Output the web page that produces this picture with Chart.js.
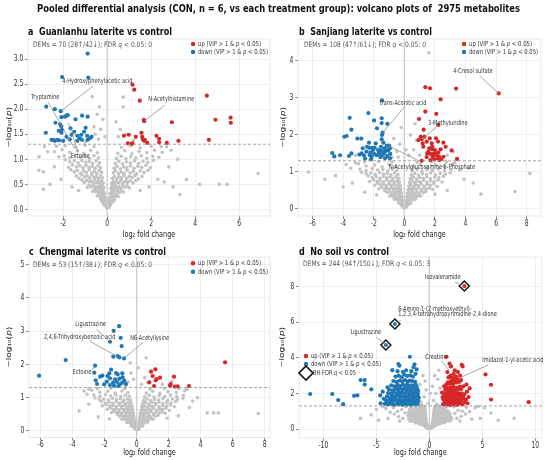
<!DOCTYPE html>
<html><head><meta charset="utf-8">
<script src="https://cdn.jsdelivr.net/npm/chart.js@4.4.1/dist/chart.umd.min.js"></script>
<style>
html,body{margin:0;padding:0;background:#fff;}
#wrap{position:relative;width:550px;height:460px;overflow:hidden;}
#wrap canvas{position:absolute;left:0;top:0;width:550px;height:460px;}
</style></head><body><div id="wrap">
<canvas id="ca" width="550" height="460"></canvas>
<canvas id="cb" width="550" height="460"></canvas>
<canvas id="cc" width="550" height="460"></canvas>
<canvas id="cd" width="550" height="460"></canvas>
<canvas id="ov" width="550" height="460"></canvas>
</div>
<script>
// ---------------- DATA ----------------
const mainTitle = 'Pooled differential analysis (CON, n = 6, vs each treatment group): volcano plots of  2975 metabolites';
const panelTitles = ['a  Guanlanhu laterite vs control','b  Sanjiang laterite vs control','c  Chengmai laterite vs control','d  No soil vs control'];
const demsText = [
  [['DEMs = 70 (28↑/42↓); FDR ',0],['q',1],[' < 0.05: 0',0]],
  [['DEMs = 108 (47↑/61↓); FDR ',0],['q',1],[' < 0.05: 0',0]],
  [['DEMs = 53 (15↑/38↓); FDR ',0],['q',1],[' < 0.05: 0',0]],
  [['DEMs = 244 (94↑/150↓); FDR ',0],['q',1],[' < 0.05: 3',0]]
];
const threshold = 1.301; // -log10(0.05)

const aXTicks = [-2,0,2,4,6];
const aYTicks = [0,0.5,1,1.5,2,2.5,3];
const aYLabels = ['0.0','0.5','1.0','1.5','2.0','2.5','3.0'];
const bXTicks = [-6,-4,-2,0,2,4,6,8];
const bYTicks = [0,1,2,3,4];
const cXTicks = [-6,-4,-2,0,2,4,6,8];
const cYTicks = [0,1,2,3,4,5];
const dXTicks = [-10,-5,0,5,10];
const dYTicks = [0,2,4,6,8];

// significant points [log2FC, -log10 p]
const aUp = [[1.15,2.49],[1.23,2.39],[1.48,2.17],[4.53,2.27],[1.67,1.79],[1.68,1.76],[2.94,1.74],[4.92,1.79],[5.61,1.83],[5.62,1.73],[1.56,1.53],[0.76,1.47],[0.98,1.49],[1.30,1.45],[1.59,1.45],[1.62,1.40],[1.68,1.37],[2.24,1.47],[2.36,1.41],[2.36,1.34],[0.94,1.32],[1.11,1.31],[1.82,1.33],[2.71,1.33],[3.24,1.37],[4.62,1.39],[1.15,1.32],[1.71,1.39]];
const aDown = [[-0.89,3.11],[-2.05,2.64],[-0.86,2.63],[-2.77,2.05],[-2.38,2.0],[-2.11,1.96],[-2.08,1.84],[-1.92,1.85],[-1.85,1.87],[-1.79,1.88],[-1.44,1.8],[-1.14,1.87],[-0.89,1.85],[-2.35,1.73],[-2.14,1.70],[-2.09,1.66],[-1.67,1.62],[-0.98,1.63],[-2.79,1.53],[-2.2,1.57],[-2.06,1.59],[-2.08,1.53],[-1.62,1.49],[-1.36,1.47],[-1.18,1.49],[-0.91,1.47],[-0.71,1.45],[-2.53,1.39],[-2.38,1.37],[-2.27,1.39],[-2.18,1.38],[-2.0,1.37],[-1.36,1.37],[-1.15,1.39],[-0.89,1.39],[-0.79,1.42],[-1.85,1.45],[-2.45,1.39],[-1.25,1.42],[-1.5,1.55],[-1.05,1.55],[-1.7,1.4]];
// non-significant cloud, flat [x,y, x,y, ...]
const aNS = [
-0.02,0.03,-0.05,0.06,-0.08,0.09,-0.04,0.1,-0.12,0.08,-0.1,0.12,
-0.06,0.14,-0.1,0.17,-0.15,0.15,-0.2,0.19,-0.08,0.2,-0.25,0.17,-0.18,0.12,
-0.09,0.24,-0.14,0.27,-0.2,0.23,-0.26,0.28,-0.32,0.25,-0.38,0.29,-0.45,0.27,-0.17,0.3,-0.3,0.21,
-0.12,0.33,-0.18,0.36,-0.25,0.34,-0.31,0.38,-0.37,0.32,-0.44,0.37,-0.5,0.35,-0.58,0.39,-0.66,0.36,-0.22,0.4,-0.4,0.4,
-0.15,0.43,-0.21,0.47,-0.28,0.44,-0.35,0.48,-0.42,0.42,-0.49,0.46,-0.56,0.43,-0.63,0.49,-0.72,0.45,-0.82,0.48,-0.9,0.44,-0.3,0.5,
-0.18,0.53,-0.25,0.57,-0.33,0.52,-0.4,0.56,-0.48,0.54,-0.56,0.59,-0.64,0.53,-0.73,0.57,-0.82,0.55,-0.93,0.58,-1.05,0.54,-1.15,0.59,
-0.22,0.63,-0.3,0.67,-0.4,0.62,-0.5,0.66,-0.6,0.64,-0.7,0.69,-0.8,0.63,-0.9,0.67,-1.02,0.65,-1.15,0.69,-1.28,0.62,-1.4,0.67,
-0.25,0.74,-0.36,0.78,-0.47,0.72,-0.58,0.76,-0.7,0.73,-0.82,0.79,-0.95,0.74,-1.08,0.77,-1.22,0.72,-1.36,0.78,-1.5,0.75,-1.65,0.79,
-0.3,0.83,-0.42,0.87,-0.55,0.82,-0.68,0.86,-0.82,0.84,-0.96,0.88,-1.1,0.83,-1.25,0.87,-1.4,0.85,-1.58,0.89,-1.75,0.84,
-0.35,0.93,-0.5,0.97,-0.66,0.92,-0.82,0.96,-0.98,0.94,-1.15,0.98,-1.32,0.93,-1.5,0.97,-1.7,0.95,-1.9,0.99,
-0.4,1.03,-0.6,1.07,-0.8,1.02,-1.0,1.06,-1.22,1.04,-1.45,1.08,-1.7,1.03,-1.95,1.07,-2.2,1.05,
-0.45,1.13,-0.75,1.18,-1.05,1.12,-1.35,1.17,-1.7,1.14,-2.05,1.19,-2.4,1.15,-0.6,1.25,-1.0,1.28,-1.45,1.24,-1.9,1.27,-2.3,1.26,
-2.9,0.75,-3.1,0.78,-3.1,1.05,-2.7,1.15,-2.85,1.25,-2.9,0.4,-2.6,0.5,-1.6,0.45,-2.1,0.6,-2.4,0.85,-1.3,0.38,
0.03,0.04,0.06,0.07,0.1,0.05,0.08,0.1,0.14,0.09,
0.07,0.13,0.12,0.16,0.18,0.14,0.23,0.18,0.1,0.19,0.28,0.16,0.16,0.11,
0.1,0.23,0.16,0.26,0.22,0.22,0.28,0.27,0.35,0.24,0.42,0.29,0.5,0.26,0.19,0.29,0.33,0.2,
0.13,0.32,0.2,0.35,0.27,0.33,0.34,0.37,0.41,0.31,0.48,0.36,0.56,0.34,0.64,0.38,0.73,0.35,0.25,0.39,0.45,0.4,
0.16,0.42,0.23,0.46,0.3,0.43,0.38,0.47,0.46,0.41,0.54,0.45,0.62,0.42,0.7,0.48,0.8,0.44,0.9,0.47,1.0,0.43,0.33,0.5,
0.2,0.52,0.28,0.56,0.36,0.51,0.44,0.55,0.53,0.53,0.62,0.58,0.71,0.52,0.81,0.56,0.92,0.54,1.04,0.57,1.17,0.53,1.3,0.58,
0.24,0.62,0.33,0.66,0.43,0.61,0.54,0.65,0.65,0.63,0.76,0.68,0.88,0.62,1.0,0.66,1.13,0.64,1.27,0.68,1.42,0.61,1.58,0.66,
0.28,0.73,0.39,0.77,0.51,0.71,0.63,0.75,0.76,0.72,0.9,0.78,1.04,0.73,1.19,0.76,1.34,0.71,1.5,0.77,1.67,0.74,1.85,0.78,
0.32,0.82,0.45,0.86,0.6,0.81,0.75,0.85,0.9,0.83,1.06,0.87,1.22,0.82,1.39,0.86,1.57,0.84,1.76,0.88,1.96,0.83,
0.37,0.92,0.53,0.96,0.7,0.91,0.87,0.95,1.05,0.93,1.24,0.97,1.43,0.92,1.63,0.96,1.85,0.94,2.1,0.98,
0.42,1.02,0.63,1.06,0.85,1.01,1.07,1.05,1.3,1.03,1.55,1.07,1.8,1.02,2.07,1.06,2.35,1.04,
0.48,1.12,0.8,1.17,1.12,1.11,1.45,1.16,1.8,1.13,2.15,1.18,2.5,1.14,0.65,1.24,1.05,1.27,1.5,1.23,2.0,1.26,2.45,1.25,
2.6,0.55,3.0,0.45,3.3,0.3,3.6,0.6,2.7,1.25,2.9,1.18,2.3,0.6,1.9,0.45,2.8,0.85,4.2,0.5,5.1,0.5,5.45,0.5,6.86,0.72,3.2,1.0,1.5,0.38,
-0.4,1.4,-0.3,1.6,-0.55,1.5,-0.2,1.8,-0.45,1.9,-0.68,2.25,-0.35,2.05,0.73,2.24,0.73,2.05,0.5,1.45,0.6,1.6,0.4,1.75,-0.6,1.65,0.85,1.5,-0.1,1.45,1.2,1.38,-1.0,1.35];

const bUp = [[6.17,3.12],[1.37,3.29],[1.68,3.26],[3.38,3.25],[2.37,2.96],[1.37,2.63],[2.09,2.57],[0.96,2.43],[2.22,2.27],[1.26,2.14],[1.07,1.95],[0.92,1.86],[1.13,1.88],[1.31,1.95],[1.66,1.91],[2.07,1.91],[2.2,1.82],[1.79,1.77],[2.55,1.79],[1.24,1.68],[1.63,1.64],[1.81,1.61],[2.0,1.59],[2.37,1.61],[3.09,1.58],[1.5,1.5],[1.68,1.49],[1.87,1.49],[2.07,1.46],[2.22,1.52],[1.85,1.41],[1.96,1.34],[2.16,1.37],[2.27,1.41],[2.0,1.5],[3.44,1.35],[1.46,1.40],[1.13,1.30],[1.7,1.32],[2.40,1.34],[2.55,1.41],[2.29,1.32],[1.57,1.54],[1.83,1.68],[1.46,1.82],[2.70,1.68],[1.2,1.77]];
const bDown = [[-1.46,2.93],[-2.35,2.59],[-1.48,2.45],[-3.57,2.46],[-1.98,2.39],[-1.48,2.32],[-1.11,2.30],[-3.46,2.14],[-1.79,2.18],[-1.42,2.06],[-1.46,2.0],[-3.92,1.95],[-3.77,1.97],[-3.07,1.90],[-2.81,1.90],[-1.48,1.88],[-2.31,1.79],[-1.37,1.79],[-1.15,1.71],[-1.0,1.71],[-2.72,1.64],[-2.29,1.65],[-2.11,1.65],[-1.94,1.65],[-1.53,1.68],[-1.31,1.64],[-1.57,1.58],[-1.46,1.55],[-1.26,1.55],[-1.05,1.58],[-2.48,1.55],[-2.05,1.59],[-4.71,1.51],[-3.46,1.50],[-2.94,1.47],[-2.64,1.45],[-2.27,1.46],[-1.98,1.49],[-1.68,1.49],[-1.35,1.49],[-0.92,1.49],[-4.58,1.42],[-3.62,1.43],[-4.2,1.45],[-2.14,1.41],[-1.81,1.45],[-1.48,1.43],[-1.11,1.43],[-2.18,1.34],[-1.57,1.40],[-1.26,1.37],[-0.94,1.37],[-2.57,1.36],[-2.79,1.50],[-1.72,1.59],[-1.63,1.52],[-1.09,1.59],[-1.87,1.77],[-2.44,1.68],[-0.94,1.64],[-2.22,1.52]];
const bNS = [
-0.03,0.03,-0.07,0.06,-0.12,0.09,-0.05,0.11,-0.17,0.08,
-0.09,0.14,-0.15,0.17,-0.22,0.13,-0.3,0.18,-0.12,0.2,-0.37,0.16,
-0.12,0.24,-0.2,0.27,-0.28,0.22,-0.37,0.28,-0.46,0.25,-0.55,0.29,-0.65,0.26,-0.24,0.3,
-0.15,0.33,-0.24,0.37,-0.33,0.32,-0.43,0.36,-0.53,0.34,-0.63,0.38,-0.74,0.33,-0.86,0.37,-0.97,0.35,
-0.19,0.43,-0.28,0.47,-0.38,0.42,-0.49,0.46,-0.6,0.44,-0.72,0.48,-0.85,0.43,-0.98,0.47,-1.12,0.45,-1.27,0.49,
-0.23,0.53,-0.34,0.57,-0.46,0.52,-0.59,0.56,-0.72,0.54,-0.86,0.58,-1.0,0.53,-1.16,0.57,-1.32,0.55,-1.5,0.59,-1.68,0.54,
-0.27,0.63,-0.4,0.67,-0.54,0.62,-0.69,0.66,-0.84,0.64,-1.0,0.68,-1.17,0.63,-1.35,0.67,-1.54,0.65,-1.74,0.69,-1.95,0.64,
-0.32,0.73,-0.47,0.77,-0.63,0.72,-0.8,0.76,-0.98,0.74,-1.17,0.78,-1.37,0.73,-1.58,0.77,-1.8,0.75,-2.03,0.79,-2.27,0.74,
-0.37,0.83,-0.55,0.87,-0.74,0.82,-0.94,0.86,-1.15,0.84,-1.37,0.88,-1.6,0.83,-1.84,0.87,-2.1,0.85,-2.37,0.89,
-0.42,0.93,-0.64,0.97,-0.87,0.92,-1.11,0.96,-1.36,0.94,-1.62,0.98,-1.9,0.93,-2.2,0.97,-2.5,0.95,-2.8,0.99,
-0.5,1.04,-0.78,1.08,-1.08,1.03,-1.4,1.07,-1.74,1.05,-2.1,1.09,-2.5,1.04,-2.9,1.08,
-0.6,1.15,-1.0,1.2,-1.45,1.14,-1.95,1.19,-2.5,1.16,-3.0,1.22,-0.8,1.27,-1.7,1.28,-2.6,1.27,-3.2,1.25,
0.03,0.04,0.08,0.07,0.13,0.05,0.1,0.1,0.19,0.09,
0.1,0.13,0.17,0.16,0.25,0.14,0.33,0.18,0.14,0.19,0.4,0.15,
0.13,0.23,0.22,0.26,0.31,0.22,0.41,0.27,0.51,0.24,0.61,0.29,0.72,0.26,0.26,0.29,
0.16,0.32,0.26,0.36,0.36,0.33,0.47,0.37,0.58,0.31,0.7,0.36,0.82,0.34,0.95,0.38,1.07,0.35,
0.2,0.42,0.31,0.46,0.42,0.43,0.54,0.47,0.66,0.41,0.8,0.45,0.94,0.42,1.09,0.48,1.24,0.44,1.4,0.47,
0.25,0.52,0.37,0.56,0.5,0.51,0.64,0.55,0.79,0.53,0.95,0.58,1.11,0.52,1.28,0.56,1.46,0.54,1.65,0.57,1.85,0.53,
0.29,0.62,0.43,0.66,0.58,0.61,0.74,0.65,0.91,0.63,1.09,0.68,1.28,0.62,1.48,0.66,1.69,0.64,1.91,0.68,2.14,0.61,
0.34,0.72,0.5,0.76,0.67,0.71,0.86,0.75,1.05,0.73,1.26,0.78,1.48,0.72,1.71,0.76,1.95,0.74,2.2,0.78,2.46,0.73,
0.39,0.82,0.58,0.86,0.79,0.81,1.0,0.85,1.23,0.83,1.47,0.87,1.72,0.82,1.98,0.86,2.26,0.84,2.55,0.88,
0.45,0.92,0.68,0.96,0.93,0.91,1.18,0.95,1.45,0.93,1.73,0.97,2.03,0.92,2.35,0.96,2.67,0.94,3.0,0.98,
0.52,1.03,0.82,1.07,1.14,1.02,1.48,1.06,1.84,1.04,2.22,1.08,2.62,1.03,3.05,1.07,
0.62,1.14,1.05,1.19,1.52,1.13,2.05,1.18,2.6,1.15,3.15,1.21,0.85,1.26,1.8,1.28,2.75,1.27,3.3,1.25,
-3.5,1.1,3.6,1.05,-4.0,0.6,4.2,1.1,-4.5,0.9,4.5,0.7,-5.2,0.8,5.0,0.4,-6.27,1.0,7.23,0.47,8.2,0.96,-3.8,1.2,3.9,0.8,-3.4,0.7,-2.6,0.45,2.8,0.5,-1.8,0.38,2.0,0.4,
-0.8,1.4,-0.5,1.55,-0.3,1.75,-0.7,1.9,0.3,1.45,0.6,1.6,0.8,1.85,0.4,2.0,-0.9,1.65,-0.2,2.2,0.7,2.3,-0.4,1.4,1.6,4.22,1.0,1.45,-1.2,1.45,0.1,1.6,-2.6,1.4,2.8,1.45,-3.2,1.45,3.2,1.55];

const cUp = [[5.52,2.06],[1.17,1.85],[0.9,1.78],[1.0,1.65],[1.19,1.52],[1.46,1.6],[0.79,1.46],[1.08,1.35],[2.33,1.63],[2.13,1.41],[2.08,1.36],[2.38,1.33],[2.56,1.34],[3.27,1.35],[1.25,1.56]];
const cDown = [[-1.10,3.15],[-1.44,3.01],[-1.0,2.80],[-1.67,2.68],[-0.94,2.55],[-1.19,2.25],[-1.08,2.21],[-1.46,2.23],[-0.79,2.18],[-4.44,2.13],[-6.1,1.66],[-2.6,1.96],[-2.65,1.75],[-2.29,1.63],[-2.15,1.66],[-1.71,1.73],[-1.60,1.84],[-1.29,1.74],[-1.19,1.70],[-0.9,1.73],[-1.83,1.65],[-1.67,1.58],[-1.35,1.55],[-1.08,1.57],[-0.88,1.61],[-2.56,1.52],[-1.87,1.48],[-1.48,1.45],[-1.23,1.47],[-0.9,1.45],[-0.77,1.51],[-2.48,1.41],[-2.04,1.40],[-1.67,1.38],[-1.42,1.36],[-1.15,1.35],[-1.04,1.40],[-0.67,1.41]];
const cNS = [
-0.02,0.03,-0.06,0.06,-0.11,0.08,-0.05,0.1,-0.15,0.09,
-0.08,0.14,-0.14,0.16,-0.21,0.13,-0.28,0.18,-0.11,0.2,-0.34,0.15,
-0.11,0.24,-0.19,0.26,-0.27,0.23,-0.35,0.28,-0.43,0.24,-0.52,0.29,-0.61,0.25,-0.22,0.3,
-0.14,0.33,-0.22,0.36,-0.31,0.32,-0.4,0.37,-0.5,0.33,-0.6,0.38,-0.7,0.34,-0.81,0.37,-0.92,0.35,
-0.17,0.43,-0.26,0.46,-0.36,0.42,-0.46,0.47,-0.57,0.44,-0.68,0.48,-0.8,0.43,-0.93,0.46,-1.06,0.44,-1.2,0.49,
-0.21,0.53,-0.32,0.56,-0.43,0.52,-0.55,0.57,-0.68,0.54,-0.81,0.58,-0.95,0.53,-1.1,0.56,-1.25,0.54,-1.42,0.59,-1.58,0.55,
-0.25,0.63,-0.37,0.66,-0.5,0.62,-0.64,0.67,-0.79,0.64,-0.94,0.68,-1.1,0.63,-1.27,0.66,-1.45,0.64,-1.64,0.69,-1.84,0.65,
-0.29,0.73,-0.43,0.76,-0.58,0.72,-0.75,0.77,-0.92,0.74,-1.1,0.78,-1.29,0.73,-1.49,0.76,-1.7,0.74,-1.92,0.79,-2.15,0.75,
-0.34,0.83,-0.5,0.86,-0.68,0.82,-0.87,0.87,-1.07,0.84,-1.28,0.88,-1.5,0.83,-1.73,0.86,-1.97,0.84,-2.22,0.89,
-0.39,0.93,-0.58,0.96,-0.8,0.92,-1.02,0.97,-1.26,0.94,-1.51,0.98,-1.77,0.93,-2.05,0.96,-2.33,0.94,-2.6,0.99,
-0.46,1.04,-0.72,1.07,-1.0,1.03,-1.3,1.08,-1.62,1.05,-1.95,1.09,-2.3,1.04,-2.68,1.08,
-0.55,1.15,-0.92,1.2,-1.34,1.14,-1.8,1.19,-2.3,1.16,-2.8,1.22,-0.75,1.27,-1.6,1.28,-2.45,1.27,-3.0,1.25,
0.03,0.04,0.07,0.07,0.12,0.05,0.09,0.1,0.17,0.09,
0.09,0.13,0.16,0.16,0.23,0.14,0.31,0.18,0.13,0.19,0.37,0.15,
0.12,0.23,0.21,0.26,0.29,0.22,0.38,0.27,0.48,0.24,0.57,0.29,0.67,0.26,0.24,0.29,
0.15,0.32,0.24,0.36,0.34,0.33,0.44,0.37,0.55,0.31,0.66,0.36,0.78,0.34,0.9,0.38,1.02,0.35,
0.19,0.42,0.29,0.46,0.4,0.43,0.51,0.47,0.63,0.41,0.76,0.45,0.9,0.42,1.04,0.48,1.19,0.44,1.34,0.47,
0.23,0.52,0.35,0.56,0.47,0.51,0.61,0.55,0.75,0.53,0.9,0.58,1.06,0.52,1.22,0.56,1.4,0.54,1.58,0.57,1.77,0.53,
0.27,0.62,0.41,0.66,0.55,0.61,0.71,0.65,0.87,0.63,1.04,0.68,1.22,0.62,1.41,0.66,1.61,0.64,1.82,0.68,2.04,0.61,
0.32,0.72,0.47,0.76,0.64,0.71,0.82,0.75,1.0,0.73,1.2,0.78,1.41,0.72,1.63,0.76,1.86,0.74,2.1,0.78,2.35,0.73,
0.37,0.82,0.55,0.86,0.75,0.81,0.95,0.85,1.17,0.83,1.4,0.87,1.64,0.82,1.89,0.86,2.16,0.84,2.44,0.88,
0.43,0.92,0.65,0.96,0.88,0.91,1.12,0.95,1.38,0.93,1.65,0.97,1.94,0.92,2.24,0.96,2.55,0.94,2.88,0.98,
0.5,1.03,0.78,1.07,1.08,1.02,1.41,1.06,1.76,1.04,2.12,1.08,2.5,1.03,2.92,1.07,
0.6,1.14,1.0,1.19,1.45,1.13,1.95,1.18,2.48,1.15,3.0,1.21,0.82,1.26,1.72,1.28,2.62,1.27,3.15,1.25,
-3.1,1.1,3.5,0.9,-3.6,0.6,3.8,1.0,4.4,0.54,4.8,0.54,5.1,0.54,7.6,0.52,-3.0,0.8,-3.3,1.2,3.3,0.7,-2.4,0.42,2.6,0.45,-1.7,0.36,1.9,0.38,
-0.36,1.74,-0.54,1.47,0.3,1.4,0.5,1.6,-0.2,1.55,0.7,1.45,-0.7,1.35,0.1,1.9,-0.4,2.05,0.6,2.2,1.6,1.4,-2.0,1.38,2.2,1.5];

const dUp = [[3.3,8.03],[1.62,4.06],[1.9,3.67],[2.05,3.52],[3.05,3.61],[3.14,3.52],[5.3,3.07],[5.82,2.49],[5.82,1.66],[9.37,1.51],[3.8,2.28],
[1.3,1.4],[1.45,1.5],[1.6,1.38],[1.75,1.45],[1.9,1.55],[2.05,1.42],[2.2,1.5],[2.35,1.38],[2.5,1.48],[2.65,1.4],[2.8,1.52],[2.95,1.44],[3.1,1.38],[3.3,1.5],
[1.35,1.65],[1.5,1.72],[1.65,1.6],[1.8,1.78],[1.95,1.68],[2.1,1.75],[2.25,1.62],[2.4,1.8],[2.55,1.7],[2.7,1.65],[2.85,1.75],[3.0,1.62],[3.2,1.72],[3.45,1.65],
[1.4,1.9],[1.55,2.0],[1.7,1.88],[1.85,2.05],[2.0,1.95],[2.15,2.1],[2.3,1.92],[2.45,2.05],[2.6,1.9],[2.75,2.0],[2.9,1.88],[3.05,2.0],[3.3,1.95],[3.55,2.1],
[1.5,2.2],[1.65,2.3],[1.8,2.18],[1.95,2.35],[2.1,2.25],[2.25,2.4],[2.4,2.2],[2.55,2.32],[2.7,2.22],[2.85,2.38],[3.0,2.25],[3.2,2.4],
[1.6,2.5],[1.75,2.62],[1.9,2.55],[2.05,2.7],[2.2,2.58],[2.35,2.75],[2.5,2.6],[2.65,2.8],[2.8,2.65],[3.0,2.75],
[1.8,2.9],[2.0,3.0],[2.15,2.88],[2.3,3.1],[2.5,2.95],[2.7,3.2],[2.9,3.0],[1.7,3.2],[2.4,3.3],
[1.25,1.8],[1.2,2.05],[1.4,2.4],[3.6,1.45],[3.7,1.8],[3.5,2.5],[1.55,1.45],[2.0,1.35],[2.6,1.36],[2.8,1.62],[1.85,1.4],[2.45,1.58],[3.15,1.85]];
const dDown = [[-3.25,5.9],[-4.1,4.72],
[-11.25,1.97],[-9.16,1.97],[-8.6,1.63],[-8.13,1.4],[-7.1,1.87],[-6.79,1.89],[-6.48,2.75],[-6.1,2.75],[-6.1,2.5],[-5.48,2.23],[-4.64,1.89],[-4.6,1.45],[-1.84,4.06],[-2.92,3.65],[-2.83,3.56],[-1.4,3.63],[-1.49,3.47],[-3.49,3.31],
[-4.2,1.42],[-3.9,1.38],[-3.7,1.45],[-3.5,1.4],[-3.3,1.36],[-3.1,1.44],[-2.9,1.38],[-2.7,1.42],[-2.5,1.36],[-2.3,1.45],[-2.1,1.38],[-1.9,1.43],[-1.7,1.37],[-1.5,1.44],[-1.3,1.39],[-1.1,1.42],[-4.0,1.5],[-3.0,1.52],[-2.0,1.5],[-1.2,1.52],
[-4.1,1.62],[-3.85,1.58],[-3.6,1.65],[-3.4,1.6],[-3.2,1.68],[-3.0,1.62],[-2.8,1.66],[-2.6,1.58],[-2.4,1.64],[-2.2,1.6],[-2.0,1.68],[-1.8,1.62],[-1.6,1.66],[-1.4,1.6],[-1.2,1.65],[-1.05,1.6],
[-4.0,1.82],[-3.7,1.78],[-3.45,1.85],[-3.25,1.8],[-3.05,1.88],[-2.85,1.82],[-2.65,1.86],[-2.45,1.78],[-2.25,1.84],[-2.05,1.8],[-1.85,1.88],[-1.65,1.82],[-1.45,1.86],[-1.25,1.8],[-1.08,1.85],
[-3.9,2.02],[-3.6,1.98],[-3.35,2.05],[-3.1,2.0],[-2.9,2.08],[-2.7,2.02],[-2.5,2.06],[-2.3,1.98],[-2.1,2.04],[-1.9,2.0],[-1.7,2.08],[-1.5,2.02],[-1.3,2.06],[-1.12,2.0],
[-3.8,2.22],[-3.5,2.18],[-3.2,2.25],[-2.95,2.2],[-2.75,2.28],[-2.55,2.22],[-2.35,2.26],[-2.15,2.18],[-1.95,2.24],[-1.75,2.2],[-1.55,2.28],[-1.35,2.22],[-1.15,2.26],
[-3.6,2.45],[-3.3,2.4],[-3.0,2.48],[-2.75,2.42],[-2.5,2.5],[-2.3,2.44],[-2.1,2.48],[-1.9,2.4],[-1.7,2.46],[-1.5,2.42],[-1.3,2.5],
[-3.4,2.7],[-3.1,2.65],[-2.8,2.72],[-2.55,2.68],[-2.3,2.75],[-2.05,2.66],[-1.85,2.72],[-1.6,2.7],[-1.35,2.65],
[-3.2,2.95],[-2.9,3.0],[-2.6,2.92],[-2.35,3.05],[-2.1,2.98],[-1.8,3.02],[-1.55,2.95],[-1.3,3.1],
[-3.0,3.25],[-2.5,3.2],[-2.2,3.3],[-1.7,3.25],[-1.2,3.35],
[-4.3,1.7],[-4.4,2.1],[-3.95,2.35],[-1.0,1.75],[-1.05,2.15],[-2.45,1.5],[-3.55,1.52],[-1.6,1.5],[-2.85,1.55],[-1.95,1.57],[-3.35,1.72],[-2.15,1.72],[-1.35,1.72],[-2.75,1.95],[-1.6,1.93],[-3.0,2.35],[-2.0,2.35],[-1.2,2.38]];
const dFDR = [[3.3,8.03],[-3.25,5.9],[-4.1,4.72]];
const dNS = [
-0.05,0.03,-0.1,0.07,-0.18,0.05,-0.14,0.11,-0.26,0.09,-0.2,0.15,-0.35,0.13,-0.44,0.17,-0.3,0.2,-0.55,0.21,
-0.22,0.25,-0.38,0.27,-0.52,0.24,-0.67,0.29,-0.82,0.26,-0.97,0.3,-0.3,0.33,-0.46,0.36,-0.62,0.32,-0.78,0.37,-0.95,0.34,-1.12,0.38,-1.3,0.35,
-0.3,0.42,-0.48,0.46,-0.66,0.41,-0.84,0.45,-1.02,0.43,-1.2,0.47,-1.4,0.42,-1.6,0.46,-1.8,0.44,
-0.32,0.53,-0.5,0.57,-0.7,0.52,-0.9,0.56,-1.1,0.54,-1.3,0.58,-1.5,0.53,-1.72,0.57,-1.95,0.55,
-0.34,0.63,-0.55,0.67,-0.76,0.62,-0.98,0.66,-1.2,0.64,-1.42,0.68,-1.65,0.63,-1.9,0.67,
-0.36,0.73,-0.58,0.77,-0.8,0.72,-1.03,0.76,-1.26,0.74,-1.5,0.78,-1.75,0.73,-2.0,0.77,
-0.38,0.84,-0.62,0.88,-0.86,0.83,-1.1,0.87,-1.35,0.85,-1.6,0.89,-1.86,0.84,
-0.4,0.94,-0.65,0.98,-0.9,0.93,-1.16,0.97,-1.42,0.95,-1.7,0.99,-1.95,0.94,
-0.42,1.05,-0.7,1.09,-0.98,1.04,-1.26,1.08,-1.55,1.06,-1.85,1.1,
-0.45,1.16,-0.75,1.2,-1.05,1.15,-1.35,1.19,-1.68,1.17,-0.5,1.27,-0.9,1.28,-1.3,1.26,-1.75,1.28,
0.06,0.04,0.12,0.08,0.2,0.06,0.16,0.12,0.28,0.1,0.23,0.16,0.38,0.14,0.48,0.18,0.33,0.21,0.6,0.22,
0.25,0.26,0.4,0.28,0.56,0.25,0.72,0.3,0.88,0.27,1.04,0.31,0.33,0.34,0.5,0.37,0.67,0.33,0.85,0.38,1.02,0.35,1.2,0.39,1.4,0.36,
0.33,0.43,0.52,0.47,0.71,0.42,0.9,0.46,1.1,0.44,1.3,0.48,1.5,0.43,1.72,0.47,1.95,0.45,
0.35,0.54,0.55,0.58,0.76,0.53,0.97,0.57,1.18,0.55,1.4,0.59,1.62,0.54,1.85,0.58,2.1,0.56,
0.37,0.64,0.6,0.68,0.82,0.63,1.05,0.67,1.28,0.65,1.52,0.69,1.76,0.64,2.02,0.68,
0.39,0.74,0.62,0.78,0.86,0.73,1.1,0.77,1.34,0.75,1.58,0.79,1.84,0.74,
0.41,0.85,0.66,0.89,0.92,0.84,1.18,0.88,1.44,0.86,1.7,0.9,1.96,0.85,
0.43,0.95,0.7,0.99,0.97,0.94,1.24,0.98,1.5,0.96,1.78,1.0,
0.45,1.06,0.74,1.1,1.03,1.05,1.32,1.09,1.62,1.07,0.48,1.17,0.8,1.21,1.12,1.16,1.45,1.2,0.55,1.27,0.95,1.28,1.35,1.26,1.7,1.28,
-2.5,0.6,-2.9,0.7,-3.3,0.85,-3.7,0.95,-4.1,1.15,-4.4,1.25,-3.0,1.0,-2.6,1.1,-3.4,1.2,-2.3,0.9,-2.8,0.45,-4.8,0.5,-5.0,1.1,-5.5,0.8,-6.5,0.6,-2.2,1.25,-3.9,0.6,
2.6,0.6,3.0,0.72,3.4,0.85,3.8,0.98,4.3,1.18,4.6,1.27,3.1,1.0,2.7,1.05,3.5,1.22,2.4,0.88,2.9,0.45,4.8,0.6,5.2,1.2,5.8,0.9,6.5,0.5,8.0,0.6,2.3,1.25,4.0,0.55,
-0.8,1.5,-0.5,1.8,-0.3,2.2,-0.9,2.5,0.4,1.6,0.6,2.0,0.8,2.8,0.3,2.4,-0.6,3.0,0.9,3.3,-1.2,1.6,1.2,1.7,-0.1,1.45,0.1,2.0,-0.4,2.7,0.5,3.0,-1.0,2.0,1.0,2.3,1.4,1.45,-1.6,1.5,1.8,2.0,-1.8,2.4,2.2,1.6,-2.4,1.5,0.7,1.4,-0.7,1.35];

// ---------------- STYLE / LAYOUT ----------------
const RED = '#d62728', BLUE = '#1f77b4', GRAY = '#c3c3c3';
const SX = 0.72;
const FAM = '"DejaVu Sans", sans-serif';
const legUp = [['up (VIP > 1 & ',0],['p',1],[' < 0.05)',0]];
const legDown = [['down (VIP > 1 & ',0],['p',1],[' < 0.05)',0]];
const legFdr = [['BH-FDR ',0],['q',1],[' < 0.05',0]];
const yTitle = [['−log₁₀(',0],['p',1],[')',0]];
const xTitle = 'log₂ fold change';

function fmtInt(v){ return String(v); }
function pairs(flat){ const out = []; for (let i = 0; i < flat.length; i += 2) out.push([flat[i], flat[i+1]]); return out; }

const panels = [
 {id:'ca', L:28, R:270, T:39, B:216, xr:[-3.6,7.4], yr:[-0.13,3.4], xt:aXTicks, xl:aXTicks.map(fmtInt), yt:aYTicks, yl:aYLabels,
  up:aUp, down:aDown, ns:pairs(aNS), fdr:[], title:panelTitles[0], tpos:{x:28,y:32,w:144}, dems:demsText[0], dpos:{x:33,y:45,w:119},
  leg:{dx:193,y1:44,y2:52,tx:198,w1:63,w2:70}, xTitleY:235, yTitleX:9,
  notes:[
   {t:'4-Hydroxyphenylacetic acid', tx:-0.45, ty:2.56, lx:-0.64, ly:2.46, px:-2.11, py:1.96},
   {t:'Tryptamine', tx:-2.82, ty:2.24, lx:-2.68, ly:2.14, px:-1.53, py:1.25},
   {t:'Ectoine', tx:-1.23, ty:1.07, lx:-1.32, ly:1.14, px:-1.77, py:1.72},
   {t:'N-Acetylhistamine', tx:2.91, ty:2.2, lx:2.62, ly:2.08, px:1.68, py:1.76}]},
 {id:'cb', L:298, R:541, T:39, B:216, xr:[-6.95,8.93], yr:[-0.19,4.59], xt:bXTicks, xl:bXTicks.map(fmtInt), yt:bYTicks, yl:bYTicks.map(fmtInt),
  up:bUp, down:bDown, ns:pairs(bNS), fdr:[], title:panelTitles[1], tpos:{x:299,y:32,w:133}, dems:demsText[1], dpos:{x:304,y:45,w:122},
  leg:{dx:464,y1:44,y2:52,tx:469,w1:63,w2:69}, xTitleY:235, yTitleX:283,
  notes:[
   {t:'4-Cresol sulfate', tx:4.48, ty:3.73, lx:4.93, ly:3.59, px:6.17, py:3.12},
   {t:'trans-Aconitic acid', tx:-0.08, ty:2.86, lx:0.03, ly:2.77, px:-1.42, py:2.06},
   {t:'3-Methyluridine', tx:2.84, ty:2.32, lx:2.09, ly:2.21, px:1.13, py:1.88},
   {t:'N-Acetylglucosamine 6-Phosphate', tx:1.81, ty:1.13, lx:0.9, ly:1.31, px:-1.1, py:1.72}]},
 {id:'cc', L:29, R:270, T:257, B:437.5, xr:[-6.73,8.33], yr:[-0.2,5.23], xt:cXTicks, xl:cXTicks.map(fmtInt), yt:cYTicks, yl:cYTicks.map(fmtInt),
  up:cUp, down:cDown, ns:pairs(cNS), fdr:[], title:panelTitles[2], tpos:{x:29,y:252,w:137}, dems:demsText[2], dpos:{x:33,y:264.7,w:119},
  leg:{dx:193,y1:263.3,y2:271.7,tx:198,w1:63,w2:70}, xTitleY:453, yTitleX:9,
  notes:[
   {t:'Ligustrazine', tx:-2.88, ty:3.2, lx:-2.52, ly:3.06, px:-1.67, py:2.68},
   {t:'2,4,6-Trihydroxybenzoic acid', tx:-3.56, ty:2.83, lx:-2.94, ly:2.7, px:-1.19, py:2.23},
   {t:'N6-Acetyllysine', tx:0.81, ty:2.8, lx:0.39, ly:2.66, px:-0.79, py:2.18},
   {t:'Ectoine', tx:-3.42, ty:1.76, lx:-2.79, ly:1.83, px:-2.6, py:1.96}]},
 {id:'cd', L:299, R:541.7, T:257, B:438, xr:[-12.3,10.6], yr:[-0.5,9.66], xt:dXTicks, xl:dXTicks.map(fmtInt), yt:dYTicks, yl:dYTicks.map(fmtInt),
  up:dUp, down:dDown, ns:pairs(dNS), fdr:dFDR, title:panelTitles[3], tpos:{x:299,y:252,w:90}, dems:demsText[3], dpos:{x:303,y:264,w:127},
  leg:{dx:306,y1:356,y2:364,tx:311,w1:62,w2:70, fy:373, ftx:313, fw:43}, xTitleY:453, yTitleX:282,
  notes:[
   {t:'Isovaleramide', tx:1.27, ty:8.5, lx:2.41, ly:8.24, px:3.3, py:8.03},
   {t:'6-Amino-1-(2-methoxyethyl)-', tx:-2.94, ty:6.74, align:'left'},
   {t:'1,2,3,4-tetrahydropyrimidine-2,4-dione', tx:-2.94, ty:6.44, align:'left', lx:-2.69, ly:6.12, px:-3.25, py:5.9},
   {t:'Ligustrazine', tx:-6.0, ty:5.43, lx:-4.98, ly:5.15, px:-4.1, py:4.72},
   {t:'Creatine', tx:0.61, ty:4.06, lx:1.15, ly:3.84, px:1.84, py:3.31},
   {t:'Imidazol-1-yl-acetic acid', tx:7.88, ty:3.88, lx:5.55, ly:3.6, px:2.78, py:2.85}]}
];

// ---------------- HELPERS ----------------
function xy(a){ return a.map(p => ({x:p[0], y:p[1]})); }
function rich(ctx, segs, x, y, o){
  if (typeof segs === 'string') segs = [[segs,0]];
  const size = o.size || 7, wt = o.bold ? 'bold ' : '';
  ctx.save();
  ctx.fillStyle = o.color || '#222'; ctx.textBaseline = 'middle'; ctx.textAlign = 'left';
  let tot = 0; const ws = [];
  segs.forEach(s => { ctx.font = (s[1]?'italic ':'') + wt + size + 'px ' + FAM; const w = ctx.measureText(s[0]).width; ws.push(w); tot += w; });
  const k = o.w ? o.w / tot : (o.sx || SX);
  if (o.rot) {
    ctx.translate(x, y); ctx.rotate(-Math.PI/2); ctx.scale(1, SX);
    let cx = -tot/2;
    segs.forEach((s,i) => { ctx.font = (s[1]?'italic ':'') + wt + size + 'px ' + FAM; ctx.fillText(s[0], cx, 0); cx += ws[i]; });
  } else {
    const W = tot * k;
    const x0 = o.align === 'center' ? x - W/2 : o.align === 'right' ? x - W : x;
    ctx.translate(x0, y); ctx.scale(k, 1);
    let cx = 0;
    segs.forEach((s,i) => { ctx.font = (s[1]?'italic ':'') + wt + size + 'px ' + FAM; ctx.fillText(s[0], cx, 0); cx += ws[i]; });
  }
  ctx.restore();
}
function dot(ctx, x, y, r, c){ ctx.save(); ctx.fillStyle = c; ctx.beginPath(); ctx.arc(x, y, r, 0, Math.PI*2); ctx.fill(); ctx.restore(); }

function panelPlugin(P){
  return {
    id: 'deco' + P.id,
    beforeDatasetsDraw(chart){
      const {ctx, chartArea:a} = chart;
      ctx.save(); ctx.strokeStyle = '#e4e4e4'; ctx.lineWidth = 0.8;
      ctx.strokeRect(a.left, a.top, a.right - a.left, a.bottom - a.top); ctx.restore();
    },
    afterDatasetsDraw(chart){
      const {ctx, chartArea:a, scales:{x, y}} = chart;
      ctx.save();
      const x0 = x.getPixelForValue(0);
      ctx.strokeStyle = 'rgba(205,205,205,0.95)'; ctx.lineWidth = 1.4;
      ctx.beginPath(); ctx.moveTo(x0, a.top); ctx.lineTo(x0, a.bottom); ctx.stroke();
      const yt = y.getPixelForValue(threshold);
      ctx.strokeStyle = '#8a8a8a'; ctx.lineWidth = 0.8; ctx.setLineDash([3,2]);
      ctx.beginPath(); ctx.moveTo(a.left, yt); ctx.lineTo(a.right, yt); ctx.stroke();
      ctx.setLineDash([]);
      ctx.strokeStyle = '#909090'; ctx.lineWidth = 0.8;
      P.notes.forEach(n => { if (n.px === undefined) return;
        ctx.beginPath(); ctx.moveTo(x.getPixelForValue(n.lx), y.getPixelForValue(n.ly));
        ctx.lineTo(x.getPixelForValue(n.px), y.getPixelForValue(n.py)); ctx.stroke(); });
      ctx.restore();
    },
    afterDraw(chart){
      const {ctx, chartArea:a, scales:{x, y}} = chart;
      P.xt.forEach((v,i) => rich(ctx, P.xl[i], x.getPixelForValue(v), a.bottom + 7.5, {size:8.5, align:'center', color:'#333'}));
      P.yt.forEach((v,i) => rich(ctx, P.yl[i], a.left - 4.5, y.getPixelForValue(v), {size:8.5, align:'right', color:'#333'}));
      rich(ctx, xTitle, (a.left + a.right)/2, P.xTitleY, {size:9, align:'center', color:'#222'});
      rich(ctx, yTitle, P.yTitleX, (a.top + a.bottom)/2, {size:9, rot:true, color:'#222'});
      rich(ctx, P.title, P.tpos.x, P.tpos.y, {size:10.5, bold:true, w:P.tpos.w, color:'#111'});
      rich(ctx, P.dems, P.dpos.x, P.dpos.y, {size:7.5, w:P.dpos.w, color:'#555'});
      const L = P.leg;
      dot(ctx, L.dx, L.y1, 2.2, RED); dot(ctx, L.dx, L.y2, 2.2, BLUE);
      rich(ctx, legUp, L.tx, L.y1, {size:7, w:L.w1, color:'#333'});
      rich(ctx, legDown, L.tx, L.y2, {size:7, w:L.w2, color:'#333'});
      if (L.fy) {
        ctx.save(); ctx.strokeStyle = '#111'; ctx.lineWidth = 1.6;
        const r = 7; ctx.beginPath(); ctx.moveTo(L.dx, L.fy - r); ctx.lineTo(L.dx + r, L.fy); ctx.lineTo(L.dx, L.fy + r); ctx.lineTo(L.dx - r, L.fy); ctx.closePath(); ctx.stroke(); ctx.restore();
        rich(ctx, legFdr, L.ftx, L.fy, {size:7, w:L.fw, color:'#333'});
      }
      P.notes.forEach(n => rich(ctx, n.t, x.getPixelForValue(n.tx), y.getPixelForValue(n.ty), {size:7, align:n.align || 'center', color:'#333'}));
    }
  };
}

function axis(range, ticks, isX){
  return {
    type:'linear', min:range[0], max:range[1],
    afterBuildTicks(s){ s.ticks = ticks.map(v => ({value:v})); },
    afterFit(s){ if (isX) s.height = 4; else s.width = 4; },
    ticks:{display:false},
    grid:{color:'#ebebeb', lineWidth:0.8, drawTicks:true, tickLength:3, tickColor:'#666', tickWidth:0.8},
    border:{display:false}
  };
}

panels.forEach(P => {
  new Chart(document.getElementById(P.id), {
    type:'scatter',
    data:{ datasets:[
      {label:'up', data:xy(P.up), backgroundColor:RED, borderWidth:0, pointRadius:2.1, order:0},
      {label:'down', data:xy(P.down), backgroundColor:BLUE, borderWidth:0, pointRadius:2.1, order:1},
      {label:'fdr', data:xy(P.fdr), pointStyle:'rectRot', pointRadius:5, backgroundColor:'#ffffff', borderColor:'#111', borderWidth:1.5, order:2},
      {label:'ns', data:xy(P.ns), backgroundColor:GRAY, borderWidth:0, pointRadius:1.8, order:3}
    ]},
    options:{
      responsive:false, animation:false, events:[],
      layout:{autoPadding:false, padding:{left:P.L - 4, right:550 - P.R, top:P.T, bottom:460 - P.B - 4}},
      plugins:{legend:{display:false}, tooltip:{enabled:false}},
      scales:{ x:axis(P.xr, P.xt, true), y:axis(P.yr, P.yt, false) }
    },
    plugins:[panelPlugin(P)]
  });
});

// main title
const ov = document.getElementById('ov').getContext('2d');
rich(ov, mainTitle, 278.5, 9.5, {size:10.5, bold:true, w:483, align:'center', color:'#111'});
</script></body></html>
